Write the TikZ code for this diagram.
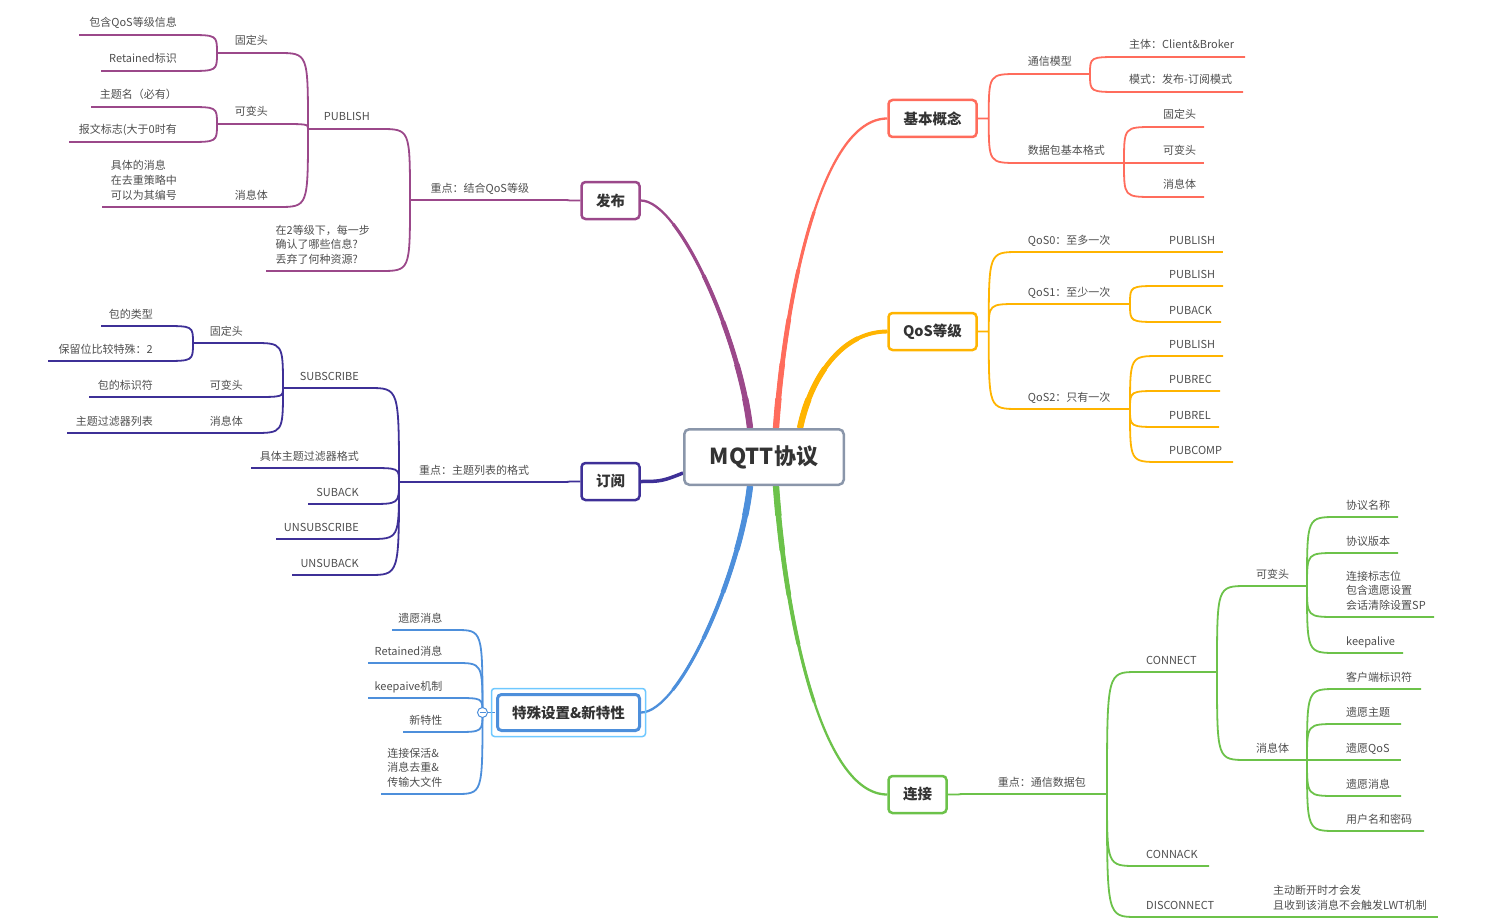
\documentclass[tikz,border=0pt]{standalone}
\usepackage{fontspec}
\setmainfont{Noto Sans CJK SC}
\usetikzlibrary{calc,backgrounds}
\definecolor{cpur}{RGB}{155,72,138}
\definecolor{cind}{RGB}{62,48,151}
\definecolor{cblu}{RGB}{77,143,219}
\definecolor{chl}{RGB}{110,200,255}
\definecolor{cred}{RGB}{255,108,92}
\definecolor{corg}{RGB}{255,180,0}
\definecolor{cgrn}{RGB}{108,194,74}
\definecolor{cgry}{RGB}{138,150,170}
\definecolor{txt}{RGB}{78,78,78}
\definecolor{dark}{RGB}{51,51,51}
\newcommand{\mlines}[1]{\begin{tabular}[b]{@{}l@{}}#1\end{tabular}}
\tikzset{
  lbl/.style={inner sep=0pt, font=\fontsize{11}{14.5}\selectfont, text=txt},
  lblr/.style={lbl, anchor=base west, xshift=39pt, yshift=8pt},
  lbll/.style={lbl, anchor=base east, xshift=-40pt, yshift=8pt},
  sub/.style={line width=1.8pt},
  main/.style={line width=2.3pt,
    postaction={draw, line width=3.1pt, dash pattern=on 220pt off 3000pt},
    postaction={draw, line width=3.9pt, dash pattern=on 160pt off 3000pt},
    postaction={draw, line width=4.7pt, dash pattern=on 110pt off 3000pt},
    postaction={draw, line width=5.5pt, dash pattern=on 65pt off 3000pt},
    postaction={draw, line width=6.3pt, dash pattern=on 30pt off 3000pt}},
  branch/.style={to path={.. controls (\tikztostart |- \tikztotarget) .. ($(\tikztostart |- \tikztotarget)+(#1,0)$) -- (\tikztotarget) \tikztonodes}},
  branch/.default=30,
  topic/.style={draw=#1, line width=2.5pt, rounded corners=4pt, fill=white, text=dark,
    font=\fontsize{14.5}{17}\selectfont\bfseries, minimum height=37pt, inner sep=0pt},
}
\begin{document}
\begin{tikzpicture}[x=1pt,y=-1pt]
\useasboundingbox (0,0) rectangle (1494,923);
% 中心主题
\node[draw=cgry, line width=2.5pt, rounded corners=5pt, fill=white, text=dark, inner sep=0pt,
  font=\fontsize{22}{26}\selectfont\bfseries, minimum width=159.5pt, minimum height=55.5pt] (ctr) at (764,457) {MQTT协议};
% 一级主题
\node[topic=cred, minimum width=88pt] (jb) at (932.5,118.5) {基本概念};
\node[topic=corg, minimum width=88pt] (qos) at (932.5,331.5) {QoS等级};
\node[topic=cgrn, minimum width=58pt] (lj) at (917.5,794.5) {连接};
\node[topic=cpur, minimum width=58pt] (fb) at (610.5,200.5) {发布};
\node[topic=cind, minimum width=58pt] (dy) at (610.5,481.5) {订阅};
\node[topic=cblu, line width=3pt, minimum width=142pt, minimum height=36pt] (ts) at (568.5,712.5) {特殊设置\&新特性};
\draw[chl, line width=1.5pt, rounded corners=3pt] ([shift={(-4.5,-4.5)}]ts.north west) rectangle ([shift={(4.5,4.5)}]ts.south east);
\coordinate (jbf) at ([xshift=11pt]jb.east);
\coordinate (qosf) at ([xshift=11pt]qos.east);
\coordinate (ljf) at ([xshift=11pt]lj.east);
\coordinate (fbf) at ([xshift=-11pt]fb.west);
\coordinate (dyf) at ([xshift=-11pt]dy.west);
\coordinate (tsf) at ([xshift=-13.5pt]ts.west);

\begin{scope}[on background layer]
% 主干
\draw[cred,main] ([xshift=12pt]ctr.north) .. controls +(9,-128) and +(-67,0) .. (jb.west);
\draw[corg,main] ([xshift=36pt]ctr.north) .. controls +(10,-48) and +(-47,0) .. (qos.west);
\draw[cgrn,main] ([xshift=12pt]ctr.south) .. controls +(9,128) and +(-67,0) .. (lj.west);
\draw[cpur,main] ([xshift=-14pt]ctr.north) .. controls +(-10,-88) and +(39,0) .. (fb.east);
\draw[cind,line width=3.5pt] ([yshift=-16pt]ctr.west) .. controls +(-20,8) and +(20,0) .. (dy.east);
\draw[cblu,main] ([xshift=-14pt]ctr.south) .. controls +(-10,88) and +(39,0) .. (ts.east);

% 基本概念
\coordinate (txmx) at (1090,74);
\coordinate (sjbg) at (1124,163);
\draw[cred,sub] (jb.east) -- (jbf) to[branch] (txmx) (jbf) to[branch] (sjbg);
\node[lblr] (ttxmx) at (jbf |- txmx) {通信模型};
\node[lblr] (tsjbg) at (jbf |- sjbg) {数据包基本格式};
\foreach \nm/\yy/\ee/\lab in {zt/57/1245/{主体：Client\&Broker}, ms/92/1243/{模式：发布-订阅模式}} {
  \coordinate (\nm) at (\ee,\yy);
  \draw[cred,sub] (txmx) to[branch] (\nm);
  \node[lblr] (t\nm) at (txmx |- \nm) {\lab};
}
\foreach \nm/\yy/\ee/\lab in {gd/127/1204/固定头, kb/163/1204/可变头, xx/197/1204/消息体} {
  \coordinate (\nm) at (\ee,\yy);
  \draw[cred,sub] (sjbg) to[branch] (\nm);
  \node[lblr] (t\nm) at (sjbg |- \nm) {\lab};
}

% QoS等级
\coordinate (qa) at (1130,252);
\coordinate (qb) at (1130,304);
\coordinate (qc) at (1130,409);
\draw[corg,sub] (qos.east) -- (qosf) to[branch] (qa) (qosf) to[branch] (qb) (qosf) to[branch] (qc);
\node[lblr] (tqa) at (qosf |- qa) {QoS0：至多一次};
\node[lblr] (tqb) at (qosf |- qb) {QoS1：至少一次};
\node[lblr] (tqc) at (qosf |- qc) {QoS2：只有一次};
\foreach \pa/\nm/\yy/\ee/\lab in {qa/qa1/252/1223/PUBLISH, qb/qb1/286/1223/PUBLISH, qb/qb2/322/1221/PUBACK,
    qc/qc1/356/1223/PUBLISH, qc/qc2/391/1220/PUBREC, qc/qc3/427/1219/PUBREL, qc/qc4/462/1233/PUBCOMP} {
  \coordinate (\nm) at (\ee,\yy);
  \draw[corg,sub] (\pa) to[branch] (\nm);
  \node[lblr] (t\nm) at (\pa |- \nm) {\lab};
}

% 连接
\coordinate (zd3) at (1107,794);
\draw[cgrn,sub] (lj.east) -- (ljf) to[branch] (zd3);
\node[lblr] (tzd3) at (ljf |- zd3) {重点：通信数据包};
\coordinate (con) at (1217,672);
\coordinate (cack) at (1209,866);
\coordinate (disc) at (1234,917);
\draw[cgrn,sub] (zd3) to[branch] (con) (zd3) to[branch] (cack) (zd3) to[branch] (disc);
\node[lblr] (tcon) at (zd3 |- con) {CONNECT};
\node[lblr] (tcack) at (zd3 |- cack) {CONNACK};
\node[lblr] (tdisc) at (zd3 |- disc) {DISCONNECT};
\coordinate (dscn) at (1438,917);
\draw[cgrn,sub] (disc) to[branch] (dscn);
\node[lblr] (tdscn) at (disc |- dscn) {\mlines{主动断开时才会发\\且收到该消息不会触发LWT机制}};
\coordinate (cvh) at (1307,586);
\coordinate (cxx) at (1307,760);
\draw[cgrn,sub] (con) to[branch] (cvh) (con) to[branch] (cxx);
\node[lblr] (tcvh) at (con |- cvh) {可变头};
\node[lblr] (tcxx) at (con |- cxx) {消息体};
\foreach \pa/\nm/\yy/\ee/\lab in {cvh/xm/517/1398/协议名称, cvh/xb/553/1398/协议版本,
    cvh/bz/617/1434/{\mlines{连接标志位\\包含遗愿设置\\会话清除设置SP}}, cvh/ka/653/1403/keepalive,
    cxx/kh/689/1421/客户端标识符, cxx/yt/724/1401/遗愿主题, cxx/yq/760/1401/遗愿QoS,
    cxx/yx/796/1401/遗愿消息, cxx/ym/831/1424/用户名和密码} {
  \coordinate (\nm) at (\ee,\yy);
  \draw[cgrn,sub] (\pa) to[branch] (\nm);
  \node[lblr] (t\nm) at (\pa |- \nm) {\lab};
}

% 发布
\coordinate (zd1) at (410,200);
\draw[cpur,sub] (fb.west) -- (fbf) to[branch=-30] (zd1);
\node[lbll] (tzd1) at (fbf |- zd1) {重点：结合QoS等级};
\coordinate (pub) at (308,129);
\coordinate (bz2) at (266,271);
\draw[cpur,sub] (zd1) to[branch=-30] (pub) (zd1) to[branch=-30] (bz2);
\node[lbll] (tpub) at (zd1 |- pub) {PUBLISH};
\node[lbll] (tbz2) at (zd1 |- bz2) {\mlines{在2等级下，每一步\\确认了哪些信息?\\丢弃了何种资源?}};
\foreach \pa/\nm/\yy/\ee/\lab in {pub/pgd/53/217/固定头, pub/pkb/124/217/可变头, pub/pxx/207/217/消息体,
    pgd/pqs/35/79/包含QoS等级信息, pgd/prt/71/101/Retained标识,
    pkb/pzt/107/91/主题名（必有）, pkb/pbw/142/69/报文标志(大于0时有,
    pxx/pjt/207/102/{\mlines{具体的消息\\在去重策略中\\可以为其编号}}} {
  \coordinate (\nm) at (\ee,\yy);
  \draw[cpur,sub] (\pa) to[branch=-30] (\nm);
  \node[lbll] (t\nm) at (\pa |- \nm) {\lab};
}

% 订阅
\coordinate (zd2) at (399,482);
\draw[cind,sub] (dy.west) -- (dyf) to[branch=-30] (zd2);
\node[lbll] (tzd2) at (dyf |- zd2) {重点：主题列表的格式};
\foreach \pa/\nm/\yy/\ee/\lab in {zd2/sub/388/283/SUBSCRIBE, zd2/sgs/468/251/具体主题过滤器格式,
    zd2/sak/504/308/SUBACK, zd2/uns/539/276/UNSUBSCRIBE, zd2/uak/575/292/UNSUBACK,
    sub/sgd/343/193/固定头, sub/skb/397/193/可变头, sub/sxx/433/193/消息体,
    sgd/slx/326/101/包的类型, sgd/sbl/361/48/保留位比较特殊：2,
    skb/sbs/397/89/包的标识符, sxx/sgl/433/67/主题过滤器列表} {
  \coordinate (\nm) at (\ee,\yy);
  \draw[cind,sub] (\pa) to[branch=-30] (\nm);
  \node[lbll] (t\nm) at (\pa |- \nm) {\lab};
}

% 特殊设置&新特性
\draw[cblu,sub] ([xshift=-1.5pt]ts.west) -- (tsf);
\foreach \nm/\yy/\ee/\lab in {wy/630/392/遗愿消息, wr/663/368/Retained消息, wk/698/368/keepaive机制,
    wx/732/403/新特性, wl/794/381/{\mlines{连接保活\&\\消息去重\&\\传输大文件}}} {
  \coordinate (\nm) at (\ee,\yy);
  \draw[cblu,sub] (tsf) to[branch=-27] (\nm);
  \node[lbll] (t\nm) at (tsf |- \nm) {\lab};
}
\end{scope}
% 折叠按钮
\node[circle, draw=cblu, fill=white, line width=1pt, minimum size=10pt, inner sep=0pt] (tsc) at (tsf) {};
\draw[cblu, line width=1pt] ([xshift=-3pt]tsc.center) -- ([xshift=3pt]tsc.center);
\end{tikzpicture}
\end{document}
